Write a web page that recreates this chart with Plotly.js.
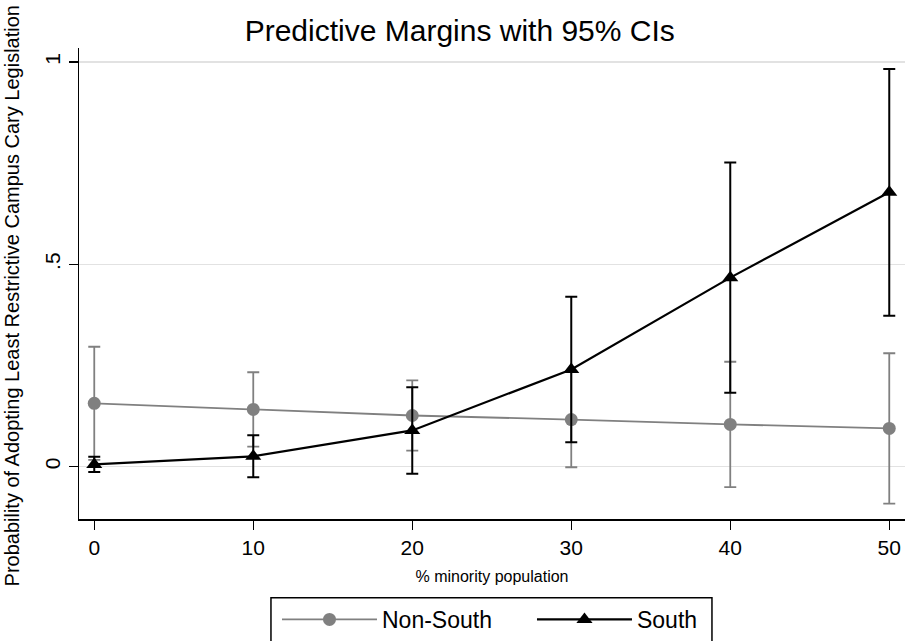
<!DOCTYPE html>
<html>
<head>
<meta charset="utf-8">
<script src="https://cdn.plot.ly/plotly-3.0.1.min.js"></script>
<style>html,body{margin:0;padding:0;background:#fff;}#chart{width:905px;height:641px;}</style>
</head>
<body>
<div id="chart"></div>
<script>
// % minority population
const minorityPct = [0, 10, 20, 30, 40, 50];
// Non-South predictive margins and 95% CI half-widths
const nonSouthMargin = [0.156, 0.141, 0.126, 0.116, 0.104, 0.094];
const nonSouthCI = [0.140, 0.092, 0.087, 0.118, 0.155, 0.186];
// South predictive margins and 95% CI half-widths
const southMargin = [0.005, 0.025, 0.089, 0.240, 0.467, 0.678];
const southCI = [0.019, 0.052, 0.107, 0.180, 0.285, 0.305];
// tick labels
const xTicks = [0, 10, 20, 30, 40, 50];
const yTickVals = [0, 0.5, 1];
const yTickText = ['0', '.5', '1'];

const FONT = 'Liberation Sans, Arial, Helvetica, sans-serif';
const GRAY = '#808080';

const traces = [
  {
    type: 'scatter', mode: 'lines+markers', name: 'Non-South', legend: 'legend',
    x: minorityPct, y: nonSouthMargin,
    line: {color: GRAY, width: 1.8},
    marker: {symbol: 'circle', size: 13, color: GRAY},
    error_y: {type: 'data', array: nonSouthCI, visible: true, color: GRAY, thickness: 1.8, width: 6}
  },
  {
    type: 'scatter', mode: 'lines+markers', name: 'South', legend: 'legend2',
    x: minorityPct, y: southMargin,
    line: {color: '#000000', width: 2.2},
    marker: {symbol: 'triangle-up', size: 14, color: '#000000'},
    error_y: {type: 'data', array: southCI, visible: true, color: '#000000', thickness: 2, width: 6}
  }
];

const legendBase = {
  orientation: 'h', xanchor: 'left', xref: 'paper',
  y: -0.167, yanchor: 'top',
  font: {family: FONT, size: 23, color: '#000000'},
  borderwidth: 0, bgcolor: 'rgba(0,0,0,0)',
  itemwidth: 95
};

const layout = {
  width: 905, height: 641,
  margin: {l: 79, r: 0, t: 48, b: 121, pad: 0},
  paper_bgcolor: '#ffffff', plot_bgcolor: '#ffffff',
  font: {family: FONT, color: '#000000'},
  title: {
    text: 'Predictive Margins with 95% CIs',
    font: {family: FONT, size: 30, color: '#000000'},
    xref: 'container', x: 0.508, xanchor: 'center',
    yref: 'container', y: 0.953, yanchor: 'middle'
  },
  xaxis: {
    range: [-0.96, 50.99],
    tickmode: 'array', tickvals: xTicks, ticktext: xTicks.map(String),
    ticks: 'outside', ticklen: 9, tickwidth: 1.5, tickcolor: '#000000',
    showline: true, linecolor: '#000000', linewidth: 1.5,
    showgrid: false, zeroline: false,
    tickfont: {family: FONT, size: 21, color: '#000000'},
    title: {text: '% minority population', font: {family: FONT, size: 16, color: '#000000'}, standoff: 13}
  },
  yaxis: {
    range: [-0.13, 1.035],
    tickmode: 'array', tickvals: yTickVals, ticktext: yTickText, tickangle: -90,
    ticks: 'outside', ticklen: 9, tickwidth: 1.5, tickcolor: '#000000',
    showline: true, linecolor: '#000000', linewidth: 1.5,
    showgrid: true, gridcolor: '#e2e2e2', gridwidth: 1.5, zeroline: false,
    tickfont: {family: FONT, size: 21, color: '#000000'}
  },
  annotations: [{
    text: 'Probability of Adopting Least Restrictive Campus Cary Legislation',
    xref: 'paper', yref: 'paper', x: -0.0811, y: 0.4725,
    xanchor: 'center', yanchor: 'middle', textangle: -90, showarrow: false,
    font: {family: FONT, size: 20, color: '#000000'}
  }],
  shapes: [{
    type: 'rect', xref: 'paper', yref: 'paper',
    x0: 0.2324, x1: 0.7663, y0: -0.1674, y1: -0.27,
    line: {color: '#000000', width: 1.5}, fillcolor: 'rgba(0,0,0,0)'
  }],
  showlegend: true,
  legend: Object.assign({}, legendBase, {x: 0.2397}),
  legend2: Object.assign({}, legendBase, {x: 0.5484})
};

Plotly.newPlot('chart', traces, layout, {displayModeBar: false, staticPlot: true});
</script>
</body>
</html>
